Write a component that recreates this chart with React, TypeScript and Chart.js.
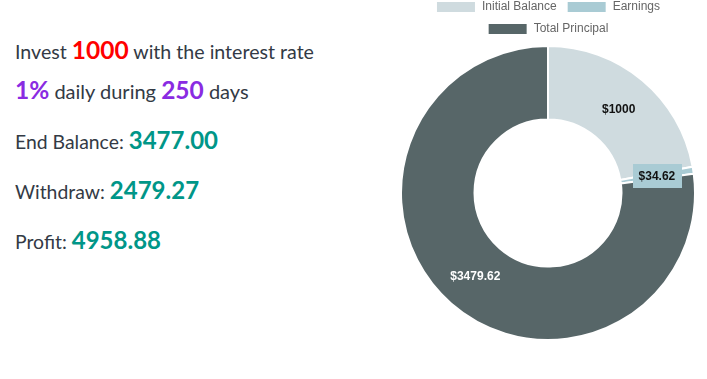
import React, { useEffect, useRef } from 'react';
import { Chart, registerables } from 'chart.js';

Chart.register(...registerables);

// ---- data ----
const categories = ['Initial Balance', 'Earnings', 'Total Principal'];
const seriesValues = [1000, 34.62, 3479.62];
const valueLabels = ['$1000', '$34.62', '$3479.62'];
const sliceColors = ['#cfdbdf', '#a9cbd4', '#576668'];
const labelColors = ['#111111', '#111111', '#ffffff'];
const labelBoxed = [false, true, false];

const investAmount = '1000';
const interestRate = '1%';
const periodDays = '250';
const endBalance = '3477.00';
const withdraw = '2479.27';
const profit = '4958.88';

const valueLabelPlugin = {
  id: 'valueLabels',
  afterDatasetsDraw(chart: any) {
    const ctx = chart.ctx;
    const meta = chart.getDatasetMeta(0);
    ctx.save();
    ctx.font = 'bold 12px "Liberation Sans", Arial, Helvetica, sans-serif';
    ctx.textAlign = 'center';
    ctx.textBaseline = 'middle';
    meta.data.forEach((arc: any, i: number) => {
      const p = arc.tooltipPosition();
      const text = valueLabels[i];
      if (labelBoxed[i]) {
        const w = ctx.measureText(text).width + 12;
        const h = 24;
        ctx.fillStyle = sliceColors[i];
        ctx.fillRect(Math.round(p.x - w / 2), Math.round(p.y - h / 2), Math.round(w), h);
      }
      ctx.fillStyle = labelColors[i];
      ctx.fillText(text, p.x, p.y + 1);
    });
    ctx.restore();
  },
};

function DoughnutChart() {
  const ref = useRef<HTMLCanvasElement | null>(null);
  useEffect(() => {
    if (!ref.current) return;
    const chart = new Chart(ref.current, {
      type: 'doughnut',
      data: {
        labels: categories,
        datasets: [
          {
            data: seriesValues,
            backgroundColor: sliceColors,
            borderColor: '#ffffff',
            borderWidth: 2,
          },
        ],
      },
      options: {
        responsive: false,
        animation: false,
        cutout: '50%',
        layout: { padding: 0 },
        plugins: {
          tooltip: { enabled: false },
          legend: {
            position: 'top',
            maxHeight: 54,
            labels: {
              color: '#666666',
              boxWidth: 40,
              padding: 10,
              font: { size: 12, family: '"Liberation Sans", Arial, Helvetica, sans-serif' },
            },
          },
        },
      } as any,
      plugins: [valueLabelPlugin],
    });
    return () => chart.destroy();
  }, []);
  return (
    <canvas
      ref={ref}
      width={300}
      height={350}
      style={{ position: 'absolute', left: 398, top: -9, width: 300, height: 350 }}
    />
  );
}

const textFont = 'Lato, "Open Sans", sans-serif';
const baseStyle: React.CSSProperties = {
  position: 'absolute',
  left: 15,
  fontFamily: textFont,
  color: '#333a45',
  whiteSpace: 'nowrap',
  lineHeight: '30px',
  height: 30,
};

export default function App() {
  return (
    <div style={{ position: 'fixed', left: 0, top: 0, width: 707, height: 379, background: '#fff', overflow: 'hidden' }}>
      <div style={{ ...baseStyle, top: 35, fontSize: 19.6 }}>
        Invest <b style={{ color: '#ff0000', fontSize: 24.5 }}>{investAmount}</b> with the interest rate
      </div>
      <div style={{ ...baseStyle, top: 75, fontSize: 20 }}>
        <b style={{ color: '#8a2be2', fontSize: 24.5 }}>{interestRate}</b> daily during{' '}
        <b style={{ color: '#8a2be2', fontSize: 24.5 }}>{periodDays}</b> days
      </div>
      <div style={{ ...baseStyle, top: 125, fontSize: 19.4 }}>
        End Balance: <b style={{ color: '#009688', fontSize: 24 }}>{endBalance}</b>
      </div>
      <div style={{ ...baseStyle, top: 175, fontSize: 19.4 }}>
        Withdraw: <b style={{ color: '#009688', fontSize: 24 }}>{withdraw}</b>
      </div>
      <div style={{ ...baseStyle, top: 225, fontSize: 19.4 }}>
        Profit: <b style={{ color: '#009688', fontSize: 24 }}>{profit}</b>
      </div>
      <DoughnutChart />
    </div>
  );
}
